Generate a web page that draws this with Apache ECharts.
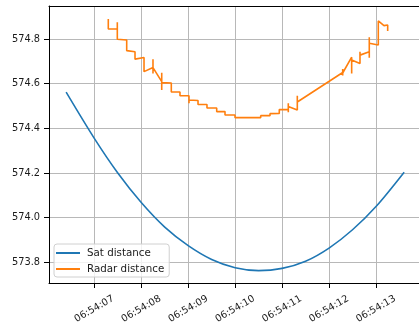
<!DOCTYPE html>
<html>
<head>
<meta charset="utf-8">
<script src="https://cdn.jsdelivr.net/npm/echarts@6/dist/echarts.min.js"></script>
<style>html,body{margin:0;padding:0;background:#fff;}#c{width:419px;height:329px;}</style>
</head>
<body>
<div id="c"></div>
<script>
// time base: 06:54:00, values given as seconds after it
const baseHour = 6, baseMinute = 54;
const seriesNames = ['Sat distance', 'Radar distance'];

const satSec  = [6.40, 7.00, 7.50, 8.00, 8.50, 9.00, 9.50, 10.00, 10.50, 11.00, 11.50, 12.00, 12.50, 13.00, 13.60];
const satDist = [574.562, 574.355, 574.200, 574.068, 573.958, 573.875, 573.813, 573.776, 573.763, 573.773, 573.805, 573.864, 573.946, 574.050, 574.204];

const radarSec = [7.298, 7.298, 7.490, 7.490, 7.490, 7.690, 7.690, 7.867, 7.867, 8.059, 8.059,
  8.250, 8.250, 8.250, 8.250, 8.436, 8.436, 8.436, 8.436, 8.640, 8.640, 8.825, 8.825,
  9.017, 9.017, 9.017, 9.209, 9.209, 9.400, 9.400, 9.607, 9.607, 9.784, 9.784, 9.997, 9.997,
  10.544, 10.544, 10.742, 10.742, 10.940, 10.940, 11.132, 11.132, 11.132, 11.132,
  11.324, 11.324, 11.324, 12.291, 12.291, 12.291, 12.291, 12.482, 12.482, 12.482,
  12.659, 12.659, 12.659, 12.857, 12.857, 12.857, 12.857, 13.049, 13.049, 13.170, 13.249, 13.249];
const radarDist = [574.890, 574.845, 574.845, 574.875, 574.799, 574.796, 574.748, 574.743, 574.710, 574.717, 574.654,
  574.673, 574.709, 574.646, 574.672, 574.609, 574.649, 574.572, 574.605, 574.603, 574.563, 574.563, 574.546,
  574.546, 574.513, 574.527, 574.525, 574.507, 574.507, 574.491, 574.491, 574.475, 574.475, 574.460, 574.460, 574.448,
  574.448, 574.457, 574.457, 574.466, 574.467, 574.484, 574.485, 574.512, 574.472, 574.498,
  574.482, 574.546, 574.518, 574.650, 574.666, 574.637, 574.648, 574.719, 574.646, 574.706,
  574.691, 574.743, 574.728, 574.743, 574.808, 574.716, 574.781, 574.773, 574.881, 574.860, 574.863, 574.836];

const xMinSec = 6.035, xMaxSec = 13.916;
const yMin = 573.7075, yMax = 574.948;

const base = Date.UTC(2021, 0, 1, baseHour, baseMinute, 0);
const ts = s => base + s * 1000;
const pad = n => String(n).padStart(2, '0');
const fmtTime = v => { const d = new Date(v); return pad(d.getUTCHours()) + ':' + pad(d.getUTCMinutes()) + ':' + pad(d.getUTCSeconds()); };

const satData = satSec.map((s, i) => [ts(s), satDist[i]]);
const radarData = radarSec.map((s, i) => [ts(s), radarDist[i]]);

const FONT = 'DejaVu Sans';
const chart = echarts.init(document.getElementById('c'), null, {renderer: 'canvas'});
chart.setOption({
  animation: false,
  backgroundColor: '#ffffff',
  textStyle: {fontFamily: FONT},
  grid: {left: 49, top: 6, right: 0, bottom: 46, containLabel: false, outerBoundsMode: 'none'},
  legend: {
    data: seriesNames,
    orient: 'vertical',
    left: 54, top: 244,
    icon: 'rect', itemWidth: 24, itemHeight: 2, itemGap: 4,
    padding: [3, 5, 2, 2],
    backgroundColor: 'rgba(255,255,255,0.8)',
    borderColor: '#d0d0d0', borderWidth: 1, borderRadius: 3,
    textStyle: {fontFamily: FONT, fontSize: 10.3, lineHeight: 12, color: '#1a1a1a', padding: [0, 0, 0, 2]}
  },
  xAxis: [{
    type: 'time',
    min: ts(xMinSec), max: ts(xMaxSec),
    minInterval: 1000, maxInterval: 1000,
    axisLine: {show: true, onZero: false, lineStyle: {color: '#000', width: 1}},
    axisTick: {show: true, length: 5, lineStyle: {color: '#000', width: 1}},
    splitLine: {show: true, lineStyle: {color: '#b8b8b8', width: 1}},
    axisLabel: {
      rotate: 30, align: 'center', verticalAlign: 'middle', margin: 26,
      fontFamily: FONT, fontSize: 9.8, color: '#1a1a1a',
      showMinLabel: false, showMaxLabel: false,
      formatter: fmtTime
    }
  }, {
    type: 'time', position: 'top',
    min: ts(xMinSec), max: ts(xMaxSec),
    axisLine: {show: true, onZero: false, lineStyle: {color: '#000', width: 1}},
    axisTick: {show: false}, axisLabel: {show: false}, splitLine: {show: false}
  }],
  yAxis: {
    type: 'value',
    min: yMin, max: yMax,
    axisLine: {show: true, onZero: false, lineStyle: {color: '#000', width: 1}},
    axisTick: {show: true, length: 5, lineStyle: {color: '#000', width: 1}},
    splitLine: {show: true, lineStyle: {color: '#b8b8b8', width: 1}},
    axisLabel: {
      margin: 9, fontFamily: FONT, fontSize: 9.8, color: '#1a1a1a',
      showMinLabel: false, showMaxLabel: false,
      formatter: v => v.toFixed(1)
    }
  },
  series: [{
    name: seriesNames[0], type: 'line', data: satData,
    showSymbol: false, symbol: 'none', smooth: 0.3,
    lineStyle: {color: '#1f77b4', width: 1.6}, itemStyle: {color: '#1f77b4'}
  }, {
    name: seriesNames[1], type: 'line', data: radarData,
    showSymbol: false, symbol: 'none',
    lineStyle: {color: '#ff7f0e', width: 1.6}, itemStyle: {color: '#ff7f0e'}
  }]
});
</script>
</body>
</html>
